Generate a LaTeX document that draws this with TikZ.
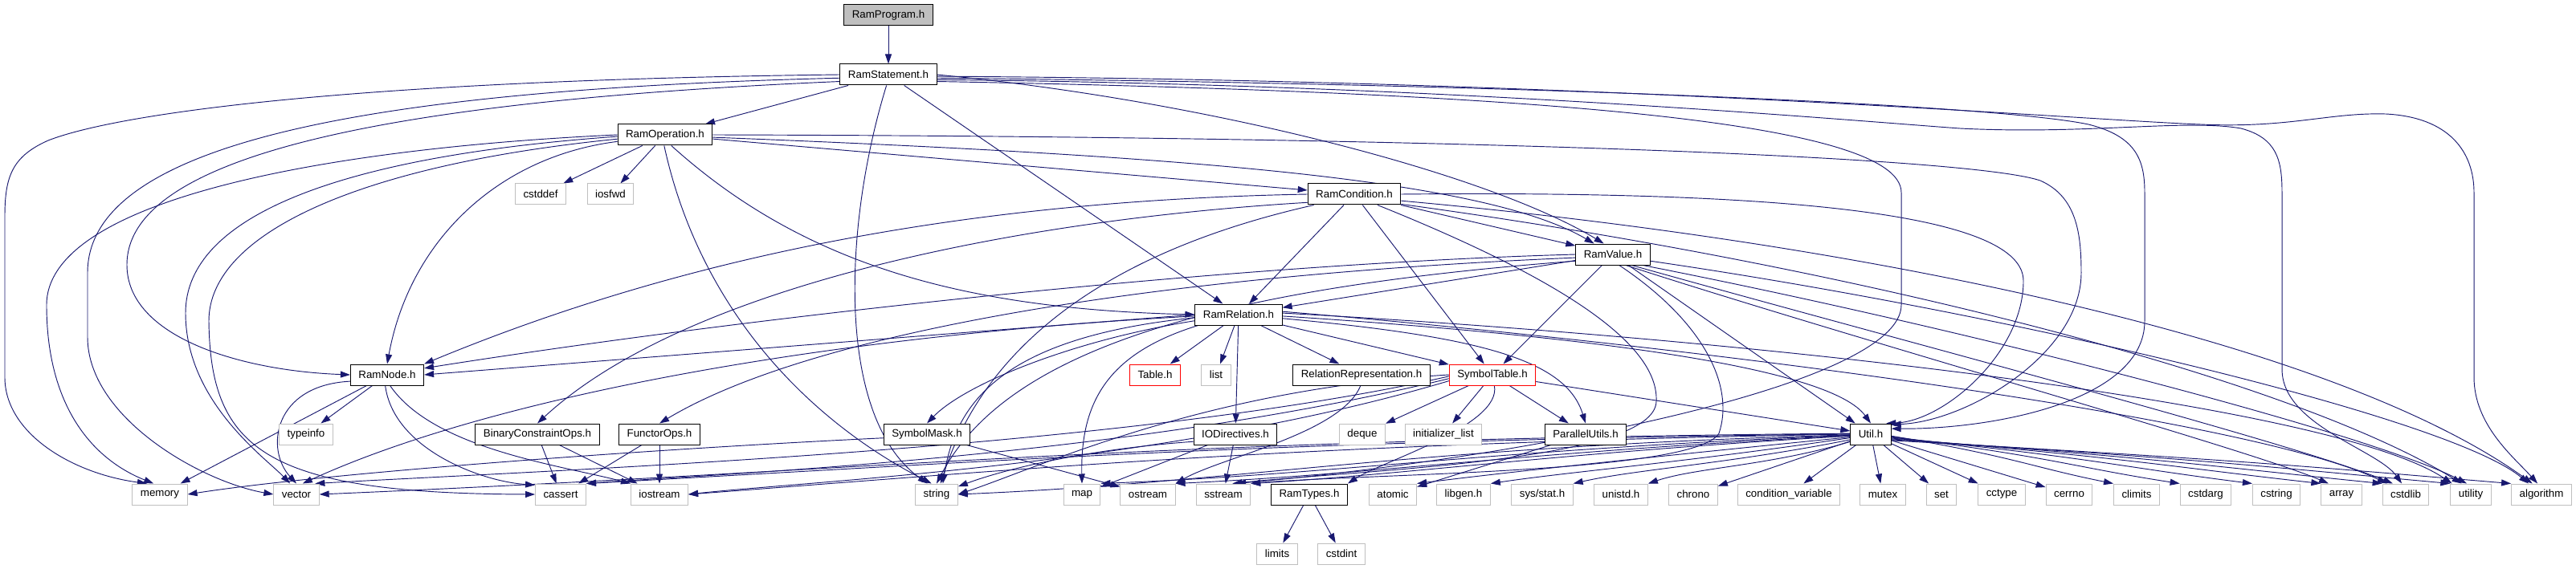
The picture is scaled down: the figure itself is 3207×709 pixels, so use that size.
\documentclass[tikz,border=0pt]{standalone}
\usepackage{fontspec}
\setmainfont{Liberation Sans}
\usetikzlibrary{arrows.meta, backgrounds}
\definecolor{incblue}{HTML}{191970}
\definecolor{sysgrey}{HTML}{BFBFBF}
\definecolor{rootgrey}{HTML}{BFBFBF}
\definecolor{cutred}{HTML}{FF0000}

\begin{document}
\begin{tikzpicture}[
  x=0.75pt, y=-0.75pt,
  inc/.style={
    rectangle, draw=#1, fill=white, line width=0.75pt,
    minimum height=19.5pt, inner xsep=7.5pt, inner ysep=0pt,
    font=\fontsize{10}{12}\selectfont, text=black
  },
  dep/.style={draw=incblue, line width=0.7pt, -{Triangle[length=9pt,width=6pt]}}
]
  \useasboundingbox (0,0) rectangle (3207,709);

  \node[inc=black, fill=rootgrey] (prog) at (1106,19) {RamProgram.h};
  \node[inc=black] (stmt) at (1106,93) {RamStatement.h};
  \node[inc=black] (oper) at (828,168) {RamOperation.h};
  \node[inc=sysgrey] (cstddef) at (673,242) {cstddef};
  \node[inc=sysgrey] (iosfwd) at (760,242) {iosfwd};
  \node[inc=black] (cond) at (1686,242) {RamCondition.h};
  \node[inc=black] (val) at (2008,317) {RamValue.h};
  \node[inc=black] (rel) at (1542,392) {RamRelation.h};
  \node[inc=black] (ramnode) at (482,467) {RamNode.h};
  \node[inc=cutred] (table) at (1438,467) {Table.h};
  \node[inc=sysgrey] (list) at (1514,467) {list};
  \node[inc=black] (relrep) at (1695,467) {RelationRepresentation.h};
  \node[inc=cutred] (symtab) at (1858,467) {SymbolTable.h};
  \node[inc=sysgrey] (typeinfo) at (381,541) {typeinfo};
  \node[inc=black] (bcops) at (669,541) {BinaryConstraintOps.h};
  \node[inc=black] (fops) at (821,541) {FunctorOps.h};
  \node[inc=black] (symmask) at (1154,541) {SymbolMask.h};
  \node[inc=black] (iodir) at (1538,541) {IODirectives.h};
  \node[inc=sysgrey] (deque) at (1696,541) {deque};
  \node[inc=sysgrey] (initlist) at (1797,541) {initializer\_list};
  \node[inc=black] (putils) at (1974,541) {ParallelUtils.h};
  \node[inc=black] (util) at (2329,541) {Util.h};

  % bottom row
  \node[inc=sysgrey] (memory) at (199,616) {memory};
  \node[inc=sysgrey] (vector) at (369,616) {vector};
  \node[inc=sysgrey] (cassert) at (698,616) {cassert};
  \node[inc=sysgrey] (iostream) at (821,616) {iostream};
  \node[inc=sysgrey] (string) at (1166,616) {string};
  \node[inc=sysgrey] (map) at (1347,616) {map};
  \node[inc=sysgrey] (ostream) at (1429,616) {ostream};
  \node[inc=sysgrey] (sstream) at (1523,616) {sstream};
  \node[inc=black] (ramtypes) at (1630,616) {RamTypes.h};
  \node[inc=sysgrey] (atomic) at (1734,616) {atomic};
  \node[inc=sysgrey] (libgen) at (1822,616) {libgen.h};
  \node[inc=sysgrey] (sysstat) at (1920,616) {sys/stat.h};
  \node[inc=sysgrey] (unistd) at (2018,616) {unistd.h};
  \node[inc=sysgrey] (chrono) at (2108,616) {chrono};
  \node[inc=sysgrey] (condvar) at (2227,616) {condition\_variable};
  \node[inc=sysgrey] (mutex) at (2344,616) {mutex};
  \node[inc=sysgrey] (set) at (2417,616) {set};
  \node[inc=sysgrey] (cctype) at (2492,616) {cctype};
  \node[inc=sysgrey] (cerrno) at (2576,616) {cerrno};
  \node[inc=sysgrey] (climits) at (2660,616) {climits};
  \node[inc=sysgrey] (cstdarg) at (2746,616) {cstdarg};
  \node[inc=sysgrey] (cstring) at (2834,616) {cstring};
  \node[inc=sysgrey] (array) at (2915,616) {array};
  \node[inc=sysgrey] (cstdlib) at (2995,616) {cstdlib};
  \node[inc=sysgrey] (utility) at (3076,616) {utility};
  \node[inc=sysgrey] (algorithm) at (3164,616) {algorithm};
  \node[inc=sysgrey] (limits) at (1590,690) {limits};
  \node[inc=sysgrey] (cstdint) at (1670,690) {cstdint};

  \begin{scope}[on background layer]
  \path[fill=white] (0,0) rectangle (3207,709);

  % RamProgram.h, RamStatement.h
  \draw[dep] (prog) -- (stmt);
  \draw[dep] (stmt) -- (oper);
  \draw[dep] (stmt) -- (rel);
  \draw[dep] (stmt.east) .. controls (1500,125) and (1850,215) .. (val.130);
  \draw[dep] (stmt.-172) .. controls (500,125) and (158,190) .. (158,330) .. controls (158,420) and (300,462) .. (ramnode.west);
  \draw[dep] (stmt.west) .. controls (450,100) and (150,140) .. (60,175) .. controls (15,195) and (6,220) .. (6,270) -- (6,470) .. controls (6,540) and (90,590) .. (memory.140);
  \draw[dep] (stmt.-176) .. controls (450,112) and (109,180) .. (109,340) -- (109,420) .. controls (109,520) and (250,600) .. (vector.west);
  \draw[dep] (stmt.-100) .. controls (1050,280) and (1040,520) .. (string.130);
  \draw[dep] (stmt.-8) .. controls (1900,115) and (2367,150) .. (2367,240) -- (2367,380) .. controls (2367,480) and (1900,570) .. (sstream.40);
  \draw[dep] (stmt.-4) .. controls (1900,105) and (2480,130) .. (2600,155) .. controls (2660,170) and (2670,200) .. (2670,240) -- (2670,400) .. controls (2670,500) and (2480,535) .. (util.15);
  \draw[dep] (stmt.-6) .. controls (1800,105) and (2300,150) .. (2440,160) .. controls (2600,168) and (2720,148) .. (2790,160) .. controls (2835,172) and (2841,200) .. (2841,240) -- (2841,460) .. controls (2841,530) and (2960,560) .. (cstdlib.110);
  \draw[dep] (stmt.-2) .. controls (2000,100) and (2600,150) .. (2740,155) .. controls (2850,160) and (2900,140) .. (2970,142) .. controls (3050,146) and (3080,190) .. (3080,240) -- (3080,470) .. controls (3080,530) and (3130,570) .. (algorithm.110);

  % RamOperation.h
  \draw[dep] (oper) -- (cstddef);
  \draw[dep] (oper) -- (iosfwd);
  \draw[dep] (oper) -- (cond);
  \draw[dep] (oper.-172) .. controls (620,195) and (510,300) .. (ramnode.north);
  \draw[dep] (oper.west) .. controls (400,185) and (58,250) .. (58,380) .. controls (58,500) and (110,570) .. (memory.120);
  \draw[dep] (oper.-178) .. controls (420,195) and (231,270) .. (231,390) .. controls (231,500) and (330,570) .. (vector.120);
  \draw[dep] (oper.-175) .. controls (450,205) and (260,290) .. (260,400) .. controls (262,560) and (330,615) .. (cassert.west);
  \draw[dep] (oper.-95) .. controls (870,380) and (1000,520) .. (string.115);
  \draw[dep] (oper.-60) .. controls (1000,330) and (1200,385) .. (rel.west);
  \draw[dep] (oper.-3) .. controls (1500,195) and (1850,225) .. (val.150);
  \draw[dep] (oper.0) .. controls (1800,170) and (2450,195) .. (2540,225) .. controls (2585,245) and (2591,290) .. (2591,340) .. controls (2591,440) and (2450,525) .. (util.25);

  % RamCondition.h
  \draw[dep] (cond) -- (val);
  \draw[dep] (cond) -- (rel);
  \draw[dep] (cond) -- (symtab);
  \draw[dep] (cond.west) .. controls (1200,250) and (850,320) .. (ramnode.north east);
  \draw[dep] (cond.-170) .. controls (1250,275) and (850,360) .. (bcops.north);
  \draw[dep] (cond.-165) .. controls (1350,320) and (1220,450) .. (string.70);
  \draw[dep] (cond.east) .. controls (2250,237) and (2519,270) .. (2519,350) .. controls (2519,440) and (2420,525) .. (util.35);
  \draw[dep] (cond.-25) .. controls (1950,350) and (2065,430) .. (2062,500) .. controls (2060,575) and (1700,585) .. (sstream.50);
  \draw[dep] (cond.-8) .. controls (2300,300) and (2900,420) .. (algorithm.130);
  \draw[dep] (cond.-12) .. controls (2300,330) and (2850,470) .. (utility.130);

  % RamValue.h
  \draw[dep] (val) -- (rel);
  \draw[dep] (val) -- (symtab);
  \draw[dep] (val) -- (util);
  \draw[dep] (val.west) .. controls (1500,330) and (900,400) .. (ramnode.10);
  \draw[dep] (val.-175) .. controls (1400,345) and (1000,420) .. (fops.north);
  \draw[dep] (val.-170) .. controls (1500,360) and (1250,440) .. (string.north);
  \draw[dep] (val.-60) .. controls (2120,400) and (2160,480) .. (2140,540) .. controls (2110,590) and (1700,590) .. (sstream.north east);
  \draw[dep] (val.-40) .. controls (2300,420) and (2800,560) .. (array.140);
  \draw[dep] (val.-30) .. controls (2350,420) and (2850,550) .. (cstdlib.140);
  \draw[dep] (val.-20) .. controls (2450,410) and (2950,540) .. (utility.110);
  \draw[dep] (val.-10) .. controls (2500,390) and (3050,520) .. (algorithm.140);

  % RamRelation.h
  \draw[dep] (rel) -- (table);
  \draw[dep] (rel) -- (list);
  \draw[dep] (rel) -- (relrep);
  \draw[dep] (rel) -- (symtab);
  \draw[dep] (rel) -- (iodir);
  \draw[dep] (rel.west) -- (ramnode.east);
  \draw[dep] (rel.-172) .. controls (1330,425) and (1200,480) .. (symmask.north);
  \draw[dep] (rel.-176) .. controls (1250,420) and (1190,500) .. (string.60);
  \draw[dep] (rel.-165) .. controls (1380,440) and (1345,500) .. (map.north);
  \draw[dep] (rel.-178) .. controls (1000,420) and (600,500) .. (vector.60);
  \draw[dep] (rel.-5) .. controls (1850,420) and (1950,450) .. (putils.north);
  \draw[dep] (rel.-2) .. controls (2000,420) and (2280,460) .. (util.north);
  \draw[dep] (rel.2) .. controls (2150,420) and (2900,500) .. (utility.150);
  \draw[dep] (rel.4) .. controls (2100,430) and (2800,520) .. (cstdlib.150);

  % SymbolTable.h
  \draw[dep] (symtab) -- (deque);
  \draw[dep] (symtab) -- (initlist);
  \draw[dep] (symtab) -- (putils);
  \draw[dep] (symtab) -- (util);
  \draw[dep] (symtab.-80) .. controls (1870,530) and (1720,575) .. (ramtypes.north east);
  \draw[dep] (symtab.west) .. controls (1500,485) and (1300,580) .. (string.east);
  \draw[dep] (symtab.-178) .. controls (1400,560) and (700,585) .. (vector.30);
  \draw[dep] (symtab.-175) .. controls (1400,570) and (900,590) .. (cassert.north east);
  \draw[dep] (symtab.-172) .. controls (1450,580) and (1000,600) .. (iostream.east);

  % Util.h
  \draw[dep] (util.-160) .. controls +(-100,30) and +(60,-20) .. (unistd.north east);
  \draw[dep] (util.-165) .. controls +(-150,30) and +(80,-18) .. (sysstat.north east);
  \draw[dep] (util.-170) .. controls +(-200,30) and +(100,-15) .. (libgen.north east);
  \draw[dep] (util.-172) .. controls +(-250,25) and +(120,-15) .. (atomic.north east);
  \draw[dep] (util.-175) .. controls +(-350,20) and +(200,-12) .. (sstream.north east);
  \draw[dep] (util.-176) .. controls +(-400,20) and +(250,-12) .. (ostream.north east);
  \draw[dep] (util.-177) .. controls +(-450,18) and +(300,-12) .. (map.north east);
  \draw[dep] (util.-178) .. controls +(-550,15) and +(350,-15) .. (string.east);
  \draw[dep] (util.180) .. controls +(-700,12) and +(400,-30) .. (iostream.east);
  \draw[dep] (util.179) .. controls +(-750,10) and +(550,-30) .. (cassert.north east);
  \draw[dep] (util.178) .. controls +(-900,8) and +(700,-30) .. (vector.east);
  \draw[dep] (util) -- (chrono);
  \draw[dep] (util) -- (condvar);
  \draw[dep] (util) -- (mutex);
  \draw[dep] (util) -- (set);
  \draw[dep] (util) -- (cctype);
  \draw[dep] (util) -- (cerrno);
  \draw[dep] (util.-5) .. controls +(150,25) and +(-100,-20) .. (climits.north west);
  \draw[dep] (util.-7) .. controls +(200,25) and +(-130,-20) .. (cstdarg.north west);
  \draw[dep] (util.-9) .. controls +(250,25) and +(-160,-20) .. (cstring.north west);
  \draw[dep] (util.-11) .. controls +(300,25) and +(-180,-20) .. (array.north west);
  \draw[dep] (util.-13) .. controls +(350,25) and +(-200,-20) .. (cstdlib.north west);
  \draw[dep] (util.-15) .. controls +(400,25) and +(-220,-20) .. (utility.north west);
  \draw[dep] (util.-17) .. controls +(450,25) and +(-240,-20) .. (algorithm.north west);

  % remaining headers
  \draw[dep] (putils) -- (atomic);
  \draw[dep] (iodir) -- (map);
  \draw[dep] (iodir) -- (sstream);
  \draw[dep] (iodir.-170) .. controls (1350,560) and (1250,585) .. (string.20);
  \draw[dep] (symmask.-175) .. controls (800,560) and (400,590) .. (memory.east);
  \draw[dep] (symmask) -- (ostream);
  \draw[dep] (relrep.-95) .. controls (1670,540) and (1520,570) .. (ostream.north east);
  \draw[dep] (ramtypes) -- (limits);
  \draw[dep] (ramtypes) -- (cstdint);
  \draw[dep] (fops) -- (cassert);
  \draw[dep] (fops) -- (iostream);
  \draw[dep] (bcops) -- (cassert);
  \draw[dep] (bcops) -- (iostream);
  \draw[dep] (ramnode) -- (typeinfo);
  \draw[dep] (ramnode) -- (memory);
  \draw[dep] (ramnode.-170) .. controls (340,480) and (330,560) .. (vector.north);
  \draw[dep] (ramnode.-100) .. controls (490,560) and (600,600) .. (cassert.160);
  \draw[dep] (ramnode.-75) .. controls (540,560) and (700,580) .. (iostream.north west);
  \end{scope}
\end{tikzpicture}
\end{document}
